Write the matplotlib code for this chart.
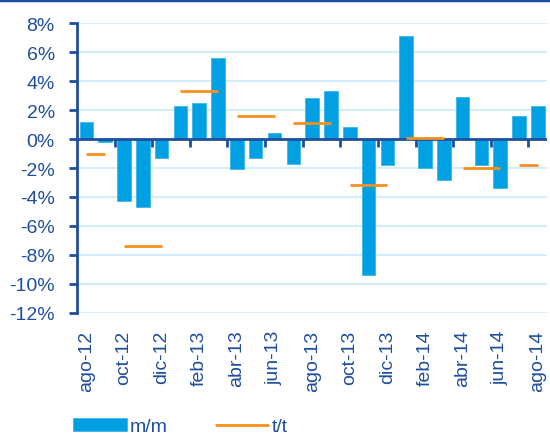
import matplotlib
matplotlib.use("Agg")
import matplotlib.pyplot as plt
import numpy as np
from matplotlib.lines import Line2D

plt.rcParams['font.family'] = ['Liberation Sans', 'DejaVu Sans']

months = ["ago-12", "sep-12", "oct-12", "nov-12", "dic-12", "ene-13", "feb-13", "mar-13",
          "abr-13", "may-13", "jun-13", "jul-13", "ago-13", "sep-13", "oct-13", "nov-13",
          "dic-13", "ene-14", "feb-14", "mar-14", "abr-14", "may-14", "jun-14", "jul-14", "ago-14"]
mm = [1.2, -0.2, -4.3, -4.7, -1.3, 2.3, 2.5, 5.6,
      -2.1, -1.3, 0.4, -1.7, 2.8, 3.3, 0.8, -9.4,
      -1.8, 7.1, -2.0, -2.8, 2.9, -1.8, -3.4, 1.6, 2.3]
# quarterly t/t values with first and last month index of each quarter shown
tt = [-1.0, -7.4, 3.3, 1.6, 1.1, -3.2, 0.1, -2.0, -1.8]
tt_start = [0, 2, 5, 8, 11, 14, 17, 20, 23]
tt_end = [1, 4, 7, 10, 13, 16, 19, 22, 24]
yticks = [8, 6, 4, 2, 0, -2, -4, -6, -8, -10, -12]

DARK = "#1F4E9E"
BAR = "#00A0E3"
ORANGE = "#F7901E"
GRID = "#D4EEF9"

fig = plt.figure(figsize=(5.5, 4.39), dpi=100)
ax = fig.add_axes([0.14, 0.285, 0.855, 0.66])

x = np.arange(len(months))
bars = ax.bar(x, mm, width=0.72, color=BAR, edgecolor="#3DB5EA", linewidth=0.6, zorder=2, label="m/m")
line_handle = None
for v, s, e in zip(tt, tt_start, tt_end):
    ln, = ax.plot([s, e], [v, v], color=ORANGE, lw=2, zorder=4, solid_capstyle='butt')
    line_handle = line_handle or ln

ax.set_xlim(-0.5, len(months) - 0.5)
ax.set_ylim(-12, 8)
ax.set_yticks(yticks)
ax.set_yticklabels([f"{v}%" for v in yticks])
ax.yaxis.grid(True, color=GRID, lw=1.5, zorder=0)
ax.set_axisbelow(True)

for s in ["top", "right", "bottom"]:
    ax.spines[s].set_visible(False)
ax.spines["left"].set_color(DARK)
ax.spines["left"].set_linewidth(2)
ax.tick_params(axis="y", colors=DARK, labelcolor=DARK, labelsize=14,
               length=6, width=2, pad=10, direction="out")

ax.set_xticks(x[::2])
ax.set_xticklabels(months[::2], rotation=90)
ax.tick_params(axis="x", length=0, labelsize=14, labelcolor=DARK, pad=12)

# zero axis with tick marks between category pairs
ax.axhline(0, color=DARK, lw=2, zorder=3)
bnd = x[1:-1:2] + 0.5
ax.plot(bnd, np.zeros_like(bnd, dtype=float), linestyle="none", marker=3,
        markersize=6, markeredgewidth=2, color=DARK, zorder=3, clip_on=False)

leg = fig.legend([bars, line_handle], ["m/m", "t/t"], loc="lower left",
                 bbox_to_anchor=(0.118, -0.012),
                 ncol=2, frameon=False, fontsize=14, handlelength=2.8,
                 handletextpad=0.15, columnspacing=2.4, borderaxespad=0.0)
for t in leg.get_texts():
    t.set_color(DARK)

fig.add_artist(Line2D([0, 1], [0.997, 0.997], transform=fig.transFigure, color="#1A4E9C", lw=2.5))

fig.savefig("out.png", dpi=100)
